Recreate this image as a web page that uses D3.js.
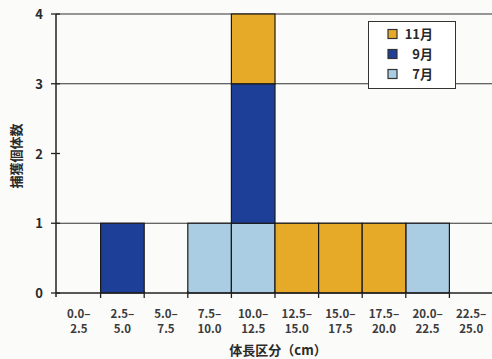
<!DOCTYPE html>
<html>
<head>
<meta charset="utf-8">
<script src="https://cdn.jsdelivr.net/npm/d3@7/dist/d3.min.js"></script>
<style>
  html, body { margin: 0; padding: 0; background: #fbfbfa; }
  svg { display: block; font-family: "Noto Sans CJK JP", "Noto Sans", sans-serif; }
</style>
</head>
<body>
<svg id="chart" width="492" height="359"></svg>
<script>
// Body-length bins (cm)
const categories = ["0.0–2.5", "2.5–5.0", "5.0–7.5", "7.5–10.0", "10.0–12.5",
                    "12.5–15.0", "15.0–17.5", "17.5–20.0", "20.0–22.5", "22.5–25.0"];
// Catch counts per survey month
const july = [0, 0, 0, 1, 1, 0, 0, 0, 1, 0];
const sept = [0, 1, 0, 0, 2, 0, 0, 0, 0, 0];
const nov  = [0, 0, 0, 0, 1, 1, 1, 1, 0, 0];
const seriesNames = ["7月", "9月", "11月"];
const yTicks = [0, 1, 2, 3, 4];
const gridValues = [1, 3, 4];

const colors = { "7月": "#aacde3", "9月": "#1d3f97", "11月": "#e7a928" };

const svg = d3.select("#chart");
const plotLeft = 57, plotRight = 493, plotTop = 14, plotBottom = 293;

const x = d3.scaleBand().domain(categories).range([plotLeft, plotRight]).padding(0);
const y = d3.scaleLinear().domain([0, 4]).range([plotBottom, plotTop]);

const rows = categories.map((c, i) => ({ cat: c, "7月": july[i], "9月": sept[i], "11月": nov[i] }));
const stacked = d3.stack().keys(seriesNames)(rows);

// horizontal grid lines
svg.append("g").selectAll("line").data(gridValues).join("line")
  .attr("x1", plotLeft - 1).attr("x2", 492)
  .attr("y1", d => y(d)).attr("y2", d => y(d))
  .attr("stroke", "#333").attr("stroke-width", 1.2);

// stacked bars
svg.append("g").selectAll("g").data(stacked).join("g")
  .attr("fill", d => colors[d.key])
  .selectAll("rect").data(d => d.filter(p => p[1] - p[0] > 0)).join("rect")
  .attr("x", d => x(d.data.cat))
  .attr("width", x.bandwidth())
  .attr("y", d => y(d[1]))
  .attr("height", d => y(d[0]) - y(d[1]))
  .attr("stroke", "#1a1a1a").attr("stroke-width", 1.2);

// y axis
const yAxis = svg.append("g");
yAxis.append("line").attr("x1", plotLeft - 1).attr("x2", plotLeft - 1)
  .attr("y1", plotTop).attr("y2", plotBottom + 4).attr("stroke", "#222").attr("stroke-width", 1.5);
yAxis.selectAll(".tk").data(yTicks).join("line")
  .attr("x1", plotLeft - 6).attr("x2", plotLeft + 3)
  .attr("y1", d => y(d)).attr("y2", d => y(d))
  .attr("stroke", "#222").attr("stroke-width", 1.3);
yAxis.selectAll("text").data(yTicks).join("text")
  .attr("x", 43).attr("y", d => y(d) + 5)
  .attr("text-anchor", "end").attr("font-size", 13).attr("font-weight", "bold")
  .attr("fill", "#2a2a2a").text(d => d);

// x axis
const xAxis = svg.append("g");
xAxis.append("line").attr("x1", plotLeft - 1).attr("x2", 492)
  .attr("y1", plotBottom).attr("y2", plotBottom).attr("stroke", "#222").attr("stroke-width", 1.5);
xAxis.selectAll(".tk").data(categories.slice(1)).join("line")
  .attr("x1", d => x(d)).attr("x2", d => x(d))
  .attr("y1", plotBottom - 2).attr("y2", plotBottom + 5)
  .attr("stroke", "#222").attr("stroke-width", 1.3);
const lbl = xAxis.selectAll("text").data(categories).join("text")
  .attr("text-anchor", "middle").attr("font-size", 11.5).attr("font-weight", "bold")
  .attr("fill", "#3a3a3a");
lbl.append("tspan")
  .attr("x", d => x(d) + x.bandwidth() / 2).attr("y", 318)
  .text(d => d.split("–")[0] + "–");
lbl.append("tspan")
  .attr("x", d => x(d) + x.bandwidth() / 2).attr("y", 333)
  .text(d => d.split("–")[1]);

// axis titles
svg.append("text").attr("x", 278).attr("y", 355)
  .attr("text-anchor", "middle").attr("font-size", 13).attr("font-weight", "bold")
  .attr("fill", "#2a2a2a").text("体長区分（cm）");
svg.append("text")
  .attr("transform", "translate(21,156) rotate(-90)")
  .attr("text-anchor", "middle").attr("font-size", 13).attr("font-weight", "bold")
  .attr("fill", "#2a2a2a").text("捕獲個体数");

// legend (top series first)
const legend = svg.append("g");
legend.append("rect").attr("x", 368.5).attr("y", 21.5).attr("width", 87).attr("height", 67)
  .attr("fill", "#fff").attr("stroke", "#333").attr("stroke-width", 1);
const legendItems = seriesNames.slice().reverse();
const li = legend.selectAll("g").data(legendItems).join("g")
  .attr("transform", (d, i) => `translate(388, ${34 + i * 20})`);
li.append("rect").attr("x", 0).attr("y", -4.5).attr("width", 9).attr("height", 9)
  .attr("fill", d => colors[d]).attr("stroke", "#333").attr("stroke-width", 1.2);
li.append("text").attr("x", 45).attr("y", 5)
  .attr("text-anchor", "end").attr("font-size", 13).attr("font-weight", "bold")
  .attr("fill", "#2a2a2a").text(d => d);
</script>
</body>
</html>
